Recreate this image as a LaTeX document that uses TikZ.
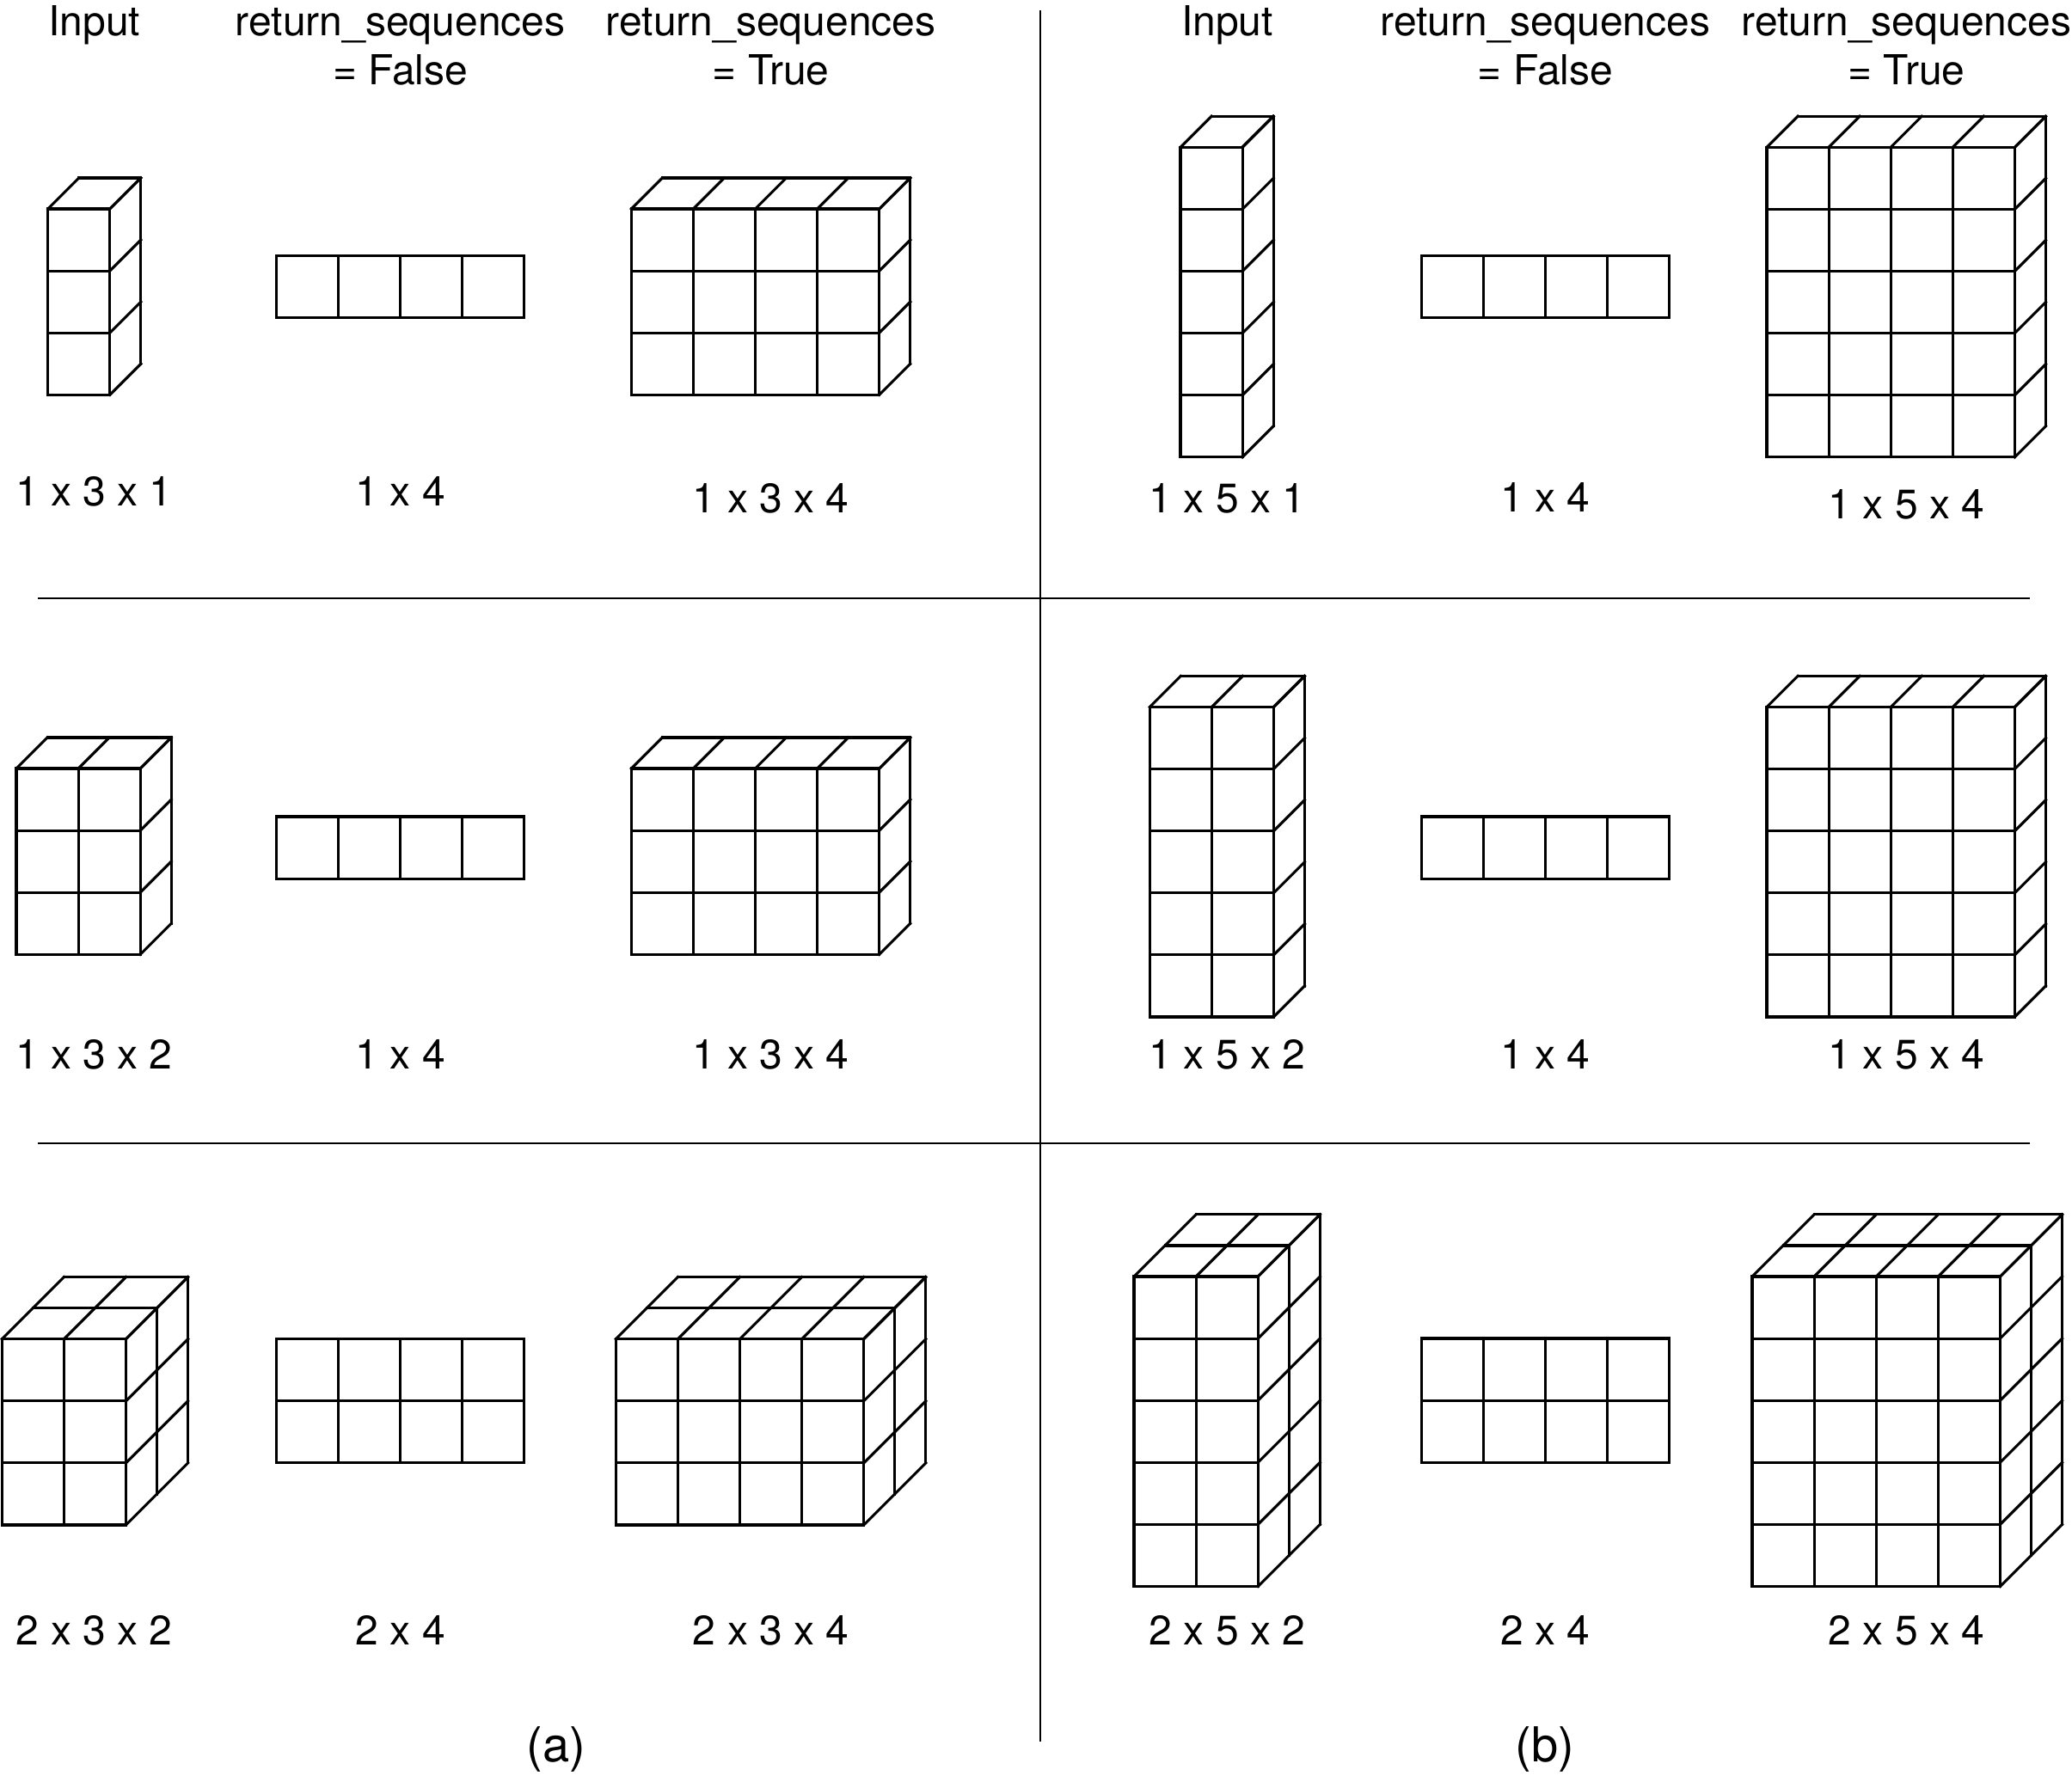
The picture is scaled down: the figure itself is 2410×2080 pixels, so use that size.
\documentclass[tikz,border=0pt]{standalone}
\usepackage{fontspec}
\setmainfont{TeX Gyre Heros}
\def\cs{72.1}
\def\dd{36.05}
\tikzset{
  ln/.style={line width=3.1pt, line cap=rect, black},
  sep/.style={line width=2.8pt, black},
  lbl/.style={font=\fontsize{48}{56}\selectfont, inner sep=0pt, anchor=base},
  caplbl/.style={font=\fontsize{56}{64}\selectfont, inner sep=0pt, anchor=base}
}
% #1 x0, #2 ytop (front face top-left), #3 width cells, #4 height cells, #5 depth layers
\newcommand{\cuboid}[5]{%
  \begin{scope}[shift={(#1,#2)}]
    \foreach \i in {0,...,#3}{\draw[ln] (\i*\cs,0) -- (\i*\cs,#4*\cs);}
    \foreach \j in {0,...,#4}{\draw[ln] (0,\j*\cs) -- (#3*\cs,\j*\cs);}
    \ifnum#5>0
      \foreach \k in {1,...,#5}{%
        \draw[ln] (\k*\dd,-\k*\dd) -- ++(#3*\cs,0);
        \draw[ln] (#3*\cs+\k*\dd,-\k*\dd) -- ++(0,#4*\cs);
      }
      \foreach \i in {0,...,#3}{\draw[ln] (\i*\cs,0) -- ++(#5*\dd,-#5*\dd);}
      \foreach \j in {0,...,#4}{\draw[ln] (#3*\cs,\j*\cs) -- ++(#5*\dd,-#5*\dd);}
    \fi
  \end{scope}}
\begin{document}
\begin{tikzpicture}[x=1pt,y=-1pt]
\useasboundingbox (0,0) rectangle (2410,2080);
\fill[white] (0,0) rectangle (2410,2080);

% separators
\coordinate (h1l) at (44,696);  \coordinate (h1r) at (2361,696);
\coordinate (h2l) at (44,1330); \coordinate (h2r) at (2361,1330);
\coordinate (vt) at (1210,12);  \coordinate (vb) at (1210,2026);
\draw[sep] (h1l) -- (h1r);
\draw[sep] (h2l) -- (h2r);
\draw[sep] (vt) -- (vb);

% headers
\node[lbl] (hai) at (109.7,41.5) {Input};
\node[lbl] (haf) at (465.7,41.5) {return\_sequences};
\node[lbl] (haf2) at (465.7,98) {= False};
\node[lbl] (hat) at (896.7,41.5) {return\_sequences};
\node[lbl] (hat2) at (896.7,98) {= True};
\node[lbl] (hbi) at (1427.5,41.5) {Input};
\node[lbl] (hbf) at (1797.5,41.5) {return\_sequences};
\node[lbl] (hbf2) at (1797.5,98) {= False};
\node[lbl] (hbt) at (2217.5,41.5) {return\_sequences};
\node[lbl] (hbt2) at (2217.5,98) {= True};

% row 1
\cuboid{55.7}{243}{1}{3}{1}
\cuboid{321.3}{297.7}{4}{1}{0}
\cuboid{734.3}{243}{4}{3}{1}
\cuboid{1373}{171.3}{1}{5}{1}
\cuboid{1653.5}{297.7}{4}{1}{0}
\cuboid{2055}{171.3}{4}{5}{1}
\node[lbl] (l1a) at (109.7,588) {1 x 3 x 1};
\node[lbl] (l1b) at (465.7,588) {1 x 4};
\node[lbl] (l1c) at (896.7,596) {1 x 3 x 4};
\node[lbl] (l1d) at (1427.5,596) {1 x 5 x 1};
\node[lbl] (l1e) at (1797.5,595) {1 x 4};
\node[lbl] (l1f) at (2217.5,603) {1 x 5 x 4};

% row 2
\cuboid{19}{894}{2}{3}{1}
\cuboid{321.3}{950}{4}{1}{0}
\cuboid{734.3}{894}{4}{3}{1}
\cuboid{1337.2}{822.5}{2}{5}{1}
\cuboid{1653.5}{950}{4}{1}{0}
\cuboid{2055}{822.5}{4}{5}{1}
\node[lbl] (l2a) at (109.7,1243) {1 x 3 x 2};
\node[lbl] (l2b) at (465.7,1243) {1 x 4};
\node[lbl] (l2c) at (896.7,1243) {1 x 3 x 4};
\node[lbl] (l2d) at (1427.5,1243) {1 x 5 x 2};
\node[lbl] (l2e) at (1797.5,1243) {1 x 4};
\node[lbl] (l2f) at (2217.5,1243) {1 x 5 x 4};

% row 3
\cuboid{2.3}{1557.7}{2}{3}{2}
\cuboid{321.3}{1557.7}{4}{2}{0}
\cuboid{716.3}{1557.7}{4}{3}{2}
\cuboid{1319}{1485}{2}{5}{2}
\cuboid{1653.5}{1557}{4}{2}{0}
\cuboid{2038}{1485}{4}{5}{2}
\node[lbl] (l3a) at (109.7,1913) {2 x 3 x 2};
\node[lbl] (l3b) at (465.7,1913) {2 x 4};
\node[lbl] (l3c) at (896.7,1913) {2 x 3 x 4};
\node[lbl] (l3d) at (1427.5,1913) {2 x 5 x 2};
\node[lbl] (l3e) at (1797.5,1913) {2 x 4};
\node[lbl] (l3f) at (2217.5,1913) {2 x 5 x 4};

% captions
\node[caplbl] (capa) at (647,2049) {(a)};
\node[caplbl] (capb) at (1797,2049) {(b)};
\end{tikzpicture}
\end{document}
